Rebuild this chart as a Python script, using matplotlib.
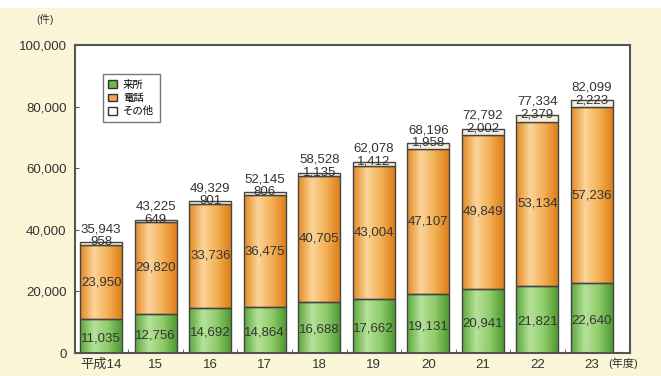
import numpy as np
import matplotlib
matplotlib.use('Agg')
import matplotlib.pyplot as plt
from matplotlib import font_manager
from matplotlib.colors import LinearSegmentedColormap
from matplotlib.patches import Rectangle

nombres = [f.name for f in font_manager.fontManager.ttflist]
fuente_num = 'Liberation Sans Narrow' if 'Liberation Sans Narrow' in nombres else 'Liberation Sans'
plt.rcParams['font.family'] = [fuente_num, 'Noto Sans CJK JP', 'DejaVu Sans']

anos = ['平成14', '15', '16', '17', '18', '19', '20', '21', '22', '23']
raisho = [11035, 12756, 14692, 14864, 16688, 17662, 19131, 20941, 21821, 22640]
denwa = [23950, 29820, 33736, 36475, 40705, 43004, 47107, 49849, 53134, 57236]
sonota = [958, 649, 901, 806, 1135, 1412, 1958, 2002, 2379, 2223]
totales = [35943, 43225, 49329, 52145, 58528, 62078, 68196, 72792, 77334, 82099]
series = ['来所', '電話', 'その他']

fondo = '#fbf6d8'
cor_texto = '#333333'
cmap_verde = LinearSegmentedColormap.from_list('v', ['#5ca83c', '#b6e29a', '#8fcc6a', '#4f9a33'])
cmap_laranja = LinearSegmentedColormap.from_list('l', ['#e48a22', '#fbd49a', '#f4b055', '#dd8018'])

fig = plt.figure(figsize=(6.61, 3.76), dpi=100, facecolor=fondo)
fig.patches.append(Rectangle((0, 1 - 8 / 376), 1, 8 / 376, transform=fig.transFigure,
                             facecolor='white', edgecolor='none', zorder=0))
ax = fig.add_axes([75 / 661, 23 / 376, 555 / 661, 308 / 376])
ax.set_facecolor('white')

x = np.arange(len(anos))
largura = 0.77
gradiente = np.linspace(0, 1, 64).reshape(1, -1)

def barra_gradiente(xc, base, altura, cmap):
    rect = Rectangle((xc - largura / 2, base), largura, altura, facecolor='none',
                     edgecolor='#444444', linewidth=1.0, zorder=3)
    ax.add_patch(rect)
    img = ax.imshow(gradiente, cmap=cmap, aspect='auto', zorder=2,
                    extent=(xc - largura / 2, xc + largura / 2, base, base + altura))
    img.set_clip_path(rect)

for i in x:
    barra_gradiente(i, 0, raisho[i], cmap_verde)
    barra_gradiente(i, raisho[i], denwa[i], cmap_laranja)
    ax.add_patch(Rectangle((i - largura / 2, raisho[i] + denwa[i]), largura, sonota[i],
                           facecolor='#f4efe0', edgecolor='#444444', linewidth=1.0, zorder=3))
    ax.text(i, raisho[i] / 2 - 800, f'{raisho[i]:,}', ha='center', va='center',
            fontsize=9.5, color=cor_texto, zorder=5)
    ax.text(i, raisho[i] + denwa[i] / 2, f'{denwa[i]:,}', ha='center', va='center',
            fontsize=9.5, color=cor_texto, zorder=5)
    topo = raisho[i] + denwa[i] + sonota[i]
    ax.text(i, topo, f'{sonota[i]:,}', ha='center', va='center',
            fontsize=9.5, color=cor_texto, zorder=5)
    ax.text(i, topo + 4200, f'{totales[i]:,}', ha='center', va='center',
            fontsize=9.5, color=cor_texto, zorder=5)

ax.set_xlim(-0.48, 9.7)
ax.set_ylim(0, 100000)
ax.set_yticks(np.arange(0, 100001, 20000))
ax.set_yticklabels([f'{v:,}' for v in range(0, 100001, 20000)])
ax.set_xticks(x)
ax.set_xticklabels(anos)
ax.set_xticks(x[:-1] + 0.5, minor=True)
ax.tick_params(axis='y', direction='in', length=3, labelsize=9.5, colors='#555555',
               labelcolor=cor_texto, pad=6)
ax.tick_params(axis='x', which='major', length=0, labelsize=9.5, labelcolor=cor_texto, pad=4)
ax.tick_params(axis='x', which='minor', direction='in', length=3, colors='#555555')
for lado in ax.spines.values():
    lado.set_color('#555555')
    lado.set_linewidth(1.5)

fig.text(45 / 661, 1 - 19 / 376, '(件)', ha='center', va='center', fontsize=7.5, color=cor_texto)
ax.text(9.3, -0.016, '(年度)', transform=ax.get_xaxis_transform(), ha='left', va='top',
        fontsize=8, color=cor_texto)

# leyenda
handles = [Rectangle((0, 0), 1, 1, facecolor=c, edgecolor='#333333', linewidth=1.0)
           for c in ['#6cba48', '#f0a848', 'white']]
ax.legend(handles, series, loc='upper left', bbox_to_anchor=(0.05, 0.905),
          frameon=True, fancybox=False, edgecolor='#555555', handlelength=0.8,
          handleheight=0.8, handletextpad=0.6, labelspacing=0.3, borderpad=0.55,
          borderaxespad=0, prop={'family': ['Noto Sans CJK JP'], 'size': 7.5})

fig.savefig('out.png', dpi=100, facecolor=fondo)
